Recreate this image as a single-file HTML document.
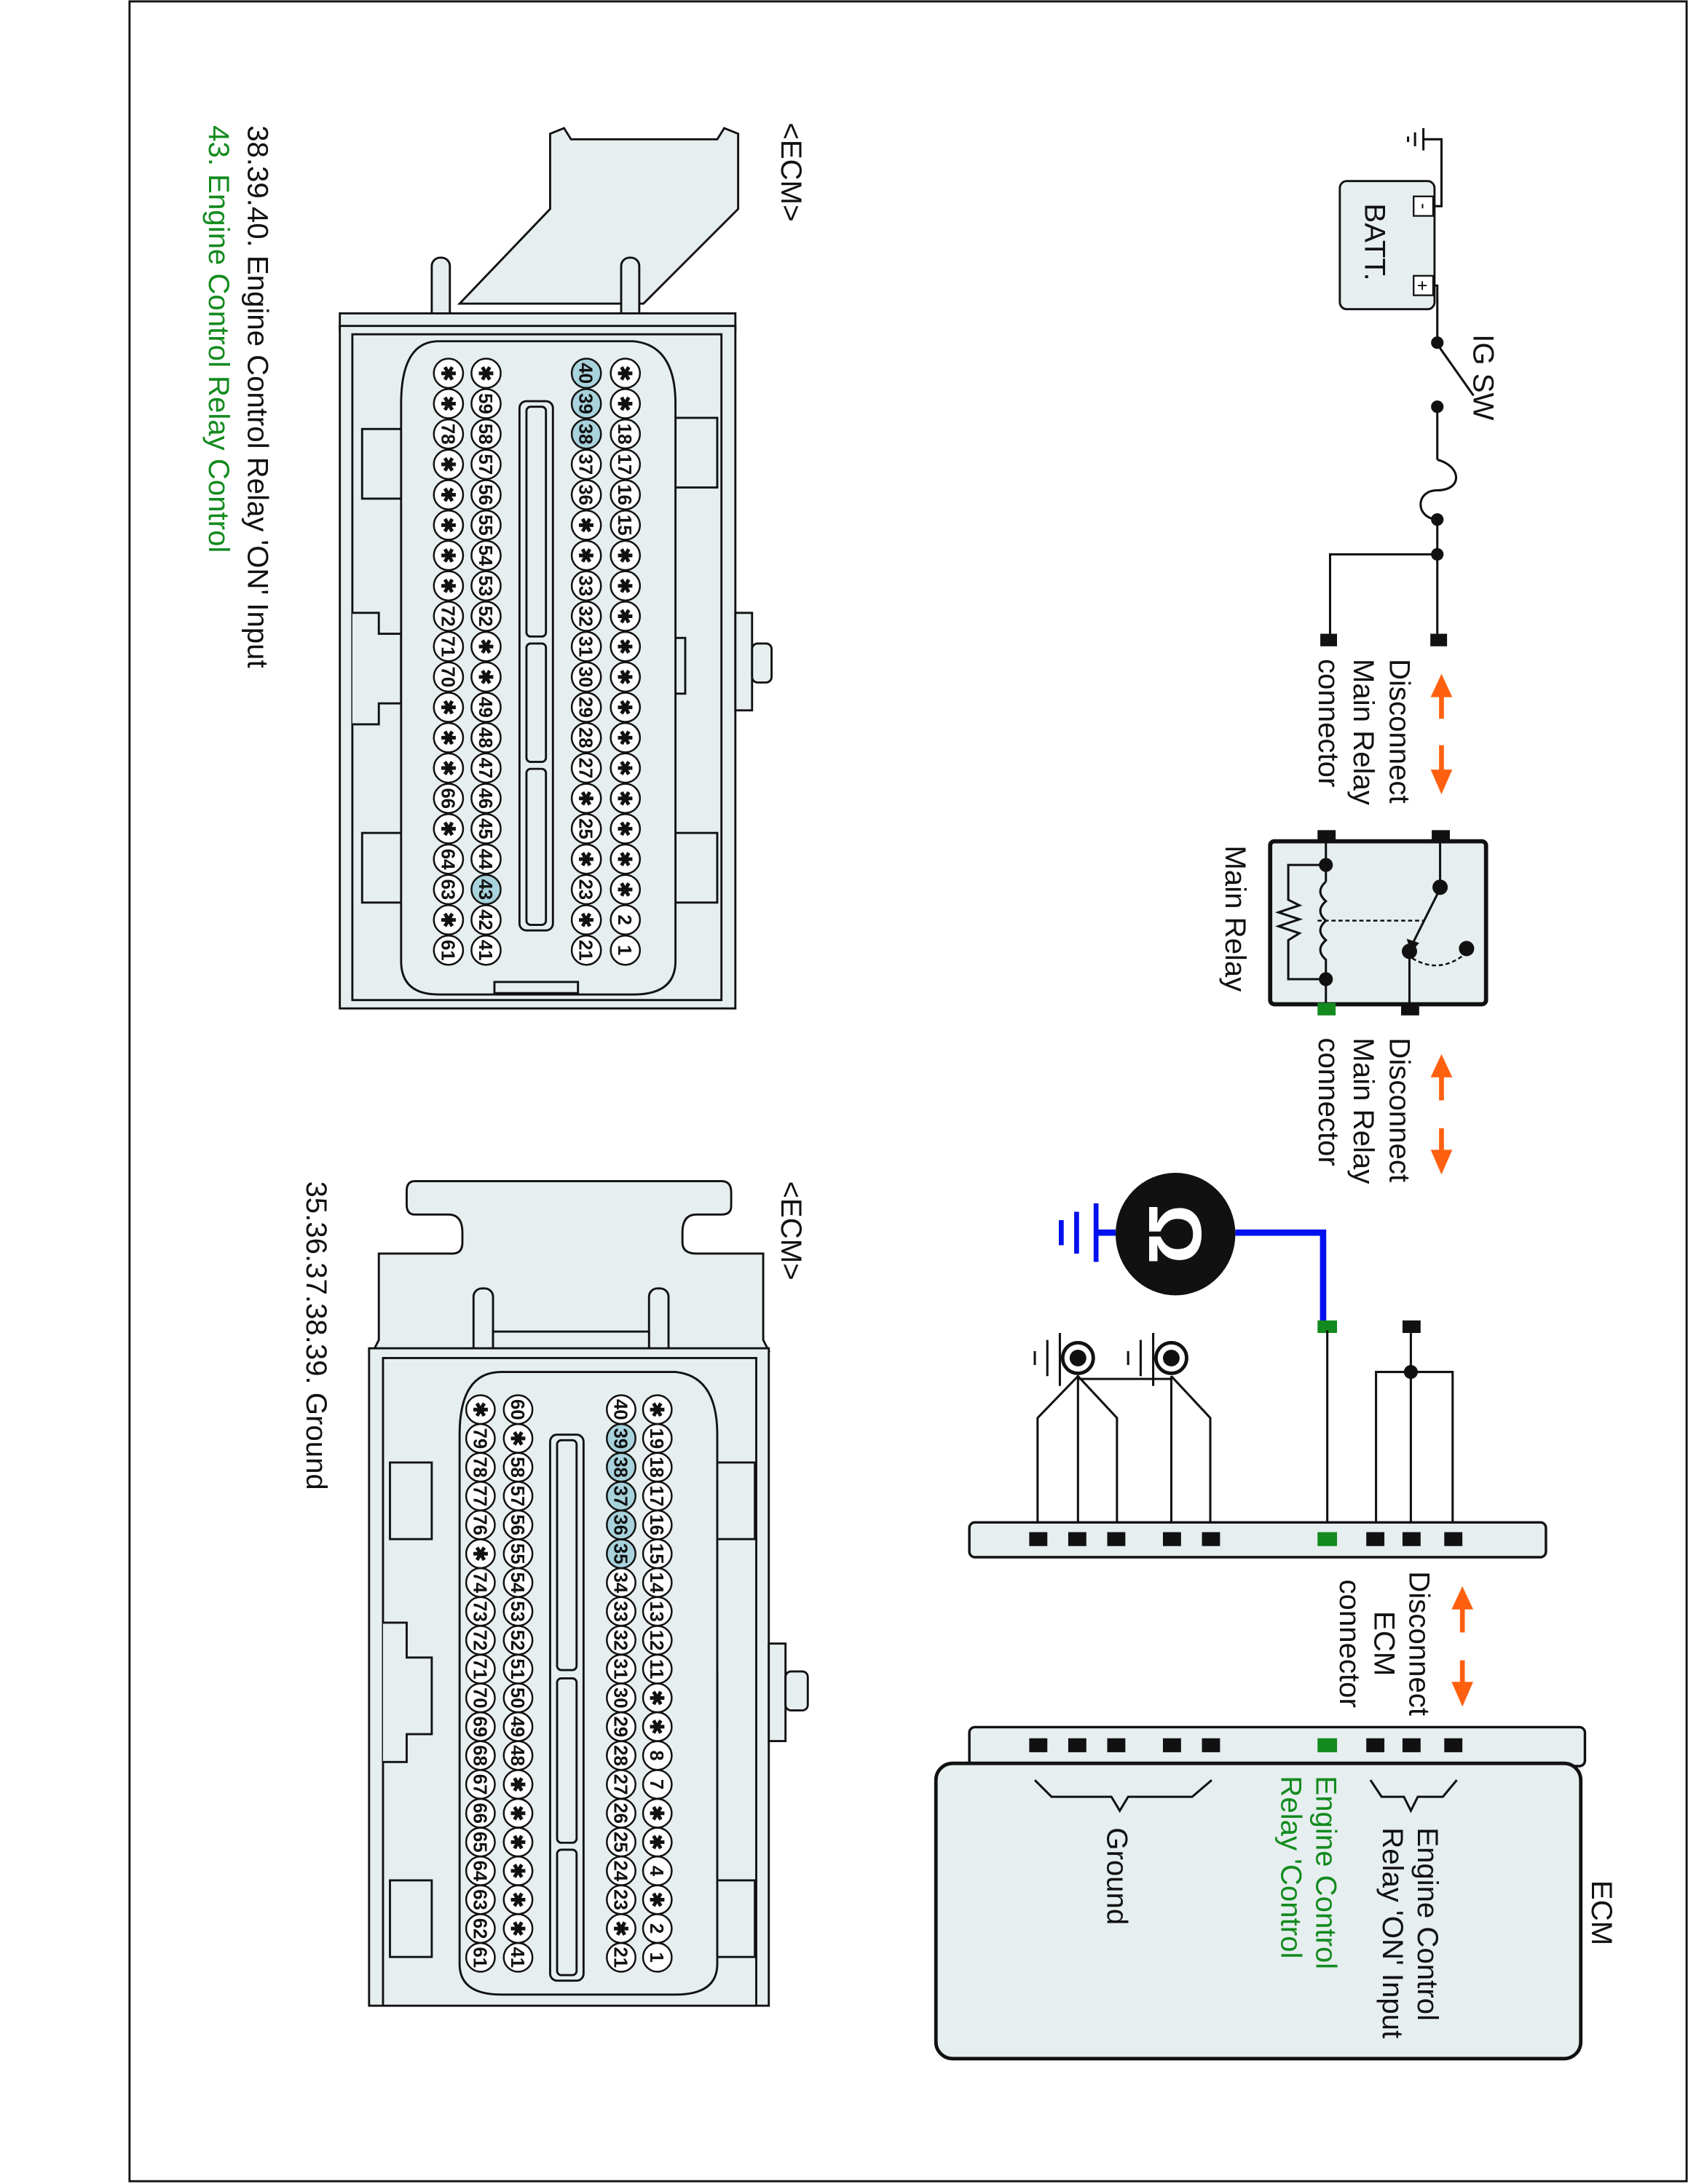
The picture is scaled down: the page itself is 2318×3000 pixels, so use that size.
<!DOCTYPE html>
<html><head><meta charset="utf-8"><style>
html,body{margin:0;padding:0;background:#fff}
svg{display:block}
text{font-family:"Liberation Sans",sans-serif}
.pin circle{fill:#fff;stroke:#111;stroke-width:1.3}
.pin circle.h{fill:#a8d2dc}
.pin text{font-size:13.5px;text-anchor:middle;fill:#111;font-weight:bold}
.lbl{font-size:21px;fill:#111}
.body{fill:#e6eeef;stroke:#111;stroke-width:1.5}
.w{stroke:#111;stroke-width:1.6;fill:none}
.sq{fill:#111}
.gs{fill:#138a1e}
</style></head><body>
<svg width="2318" height="3000" viewBox="0 0 1212 1568" preserveAspectRatio="none" xmlns="http://www.w3.org/2000/svg">
<rect x="93" y="1" width="1118" height="1565" fill="#fff" stroke="#111" stroke-width="1.5"/>

<!-- ===== TOP-LEFT CONNECTOR ===== -->
<polygon class="body" points="330,218 395,150 395,96 405,92 410,100 515,100 520,92 530,96 530,150 462,218"/>
<rect class="body" x="310" y="185" width="13" height="48" rx="6"/>
<rect class="body" x="446" y="185" width="13" height="48" rx="6"/>
<rect class="body" x="244" y="225" width="284" height="12"/>
<rect class="body" x="244" y="234" width="284" height="490"/>
<rect class="body" x="253" y="240" width="265" height="478"/>
<rect class="body" x="528" y="440" width="12" height="70"/>
<rect class="body" x="540" y="462" width="14" height="28" rx="4"/>
<rect class="body" x="482" y="458" width="10" height="40"/>
<rect class="body" x="260" y="308" width="30" height="50"/>
<rect class="body" x="485" y="300" width="30" height="50"/>
<rect class="body" x="260" y="598" width="30" height="50"/>
<rect class="body" x="485" y="598" width="30" height="50"/>
<path class="body" d="M253,440 L272,440 L272,455 L288,455 L288,505 L272,505 L272,520 L253,520"/>
<path class="body" d="M315,245 L455,245 Q485,248 485,290 L485,690 Q485,714 455,714 L315,714 Q288,714 288,690 L288,290 Q288,245 315,245 Z"/>
<rect class="body" x="355" y="705" width="60" height="8"/>
<rect class="body" x="373" y="288" width="24" height="380" rx="5"/>
<rect class="body" x="378" y="292" width="14" height="165" rx="3"/>
<rect class="body" x="378" y="462" width="14" height="85" rx="3"/>
<rect class="body" x="378" y="552" width="14" height="112" rx="3"/>

<g class="pin" transform="translate(449,268) rotate(90)">
<circle cx="0" r="10.5"/><text x="0" y="5">✱</text>
<circle cx="21.8" r="10.5"/><text x="21.8" y="5">✱</text>
<circle cx="43.6" r="10.5"/><text x="43.6" y="5">18</text>
<circle cx="65.4" r="10.5"/><text x="65.4" y="5">17</text>
<circle cx="87.2" r="10.5"/><text x="87.2" y="5">16</text>
<circle cx="109" r="10.5"/><text x="109" y="5">15</text>
<circle cx="130.8" r="10.5"/><text x="130.8" y="5">✱</text>
<circle cx="152.6" r="10.5"/><text x="152.6" y="5">✱</text>
<circle cx="174.4" r="10.5"/><text x="174.4" y="5">✱</text>
<circle cx="196.2" r="10.5"/><text x="196.2" y="5">✱</text>
<circle cx="218" r="10.5"/><text x="218" y="5">✱</text>
<circle cx="239.8" r="10.5"/><text x="239.8" y="5">✱</text>
<circle cx="261.6" r="10.5"/><text x="261.6" y="5">✱</text>
<circle cx="283.4" r="10.5"/><text x="283.4" y="5">✱</text>
<circle cx="305.2" r="10.5"/><text x="305.2" y="5">✱</text>
<circle cx="327" r="10.5"/><text x="327" y="5">✱</text>
<circle cx="348.8" r="10.5"/><text x="348.8" y="5">✱</text>
<circle cx="370.6" r="10.5"/><text x="370.6" y="5">✱</text>
<circle cx="392.4" r="10.5"/><text x="392.4" y="5">2</text>
<circle cx="414.2" r="10.5"/><text x="414.2" y="5">1</text>
</g>
<g class="pin" transform="translate(421,268) rotate(90)">
<circle class="h" cx="0" r="10.5"/><text x="0" y="5">40</text>
<circle class="h" cx="21.8" r="10.5"/><text x="21.8" y="5">39</text>
<circle class="h" cx="43.6" r="10.5"/><text x="43.6" y="5">38</text>
<circle cx="65.4" r="10.5"/><text x="65.4" y="5">37</text>
<circle cx="87.2" r="10.5"/><text x="87.2" y="5">36</text>
<circle cx="109" r="10.5"/><text x="109" y="5">✱</text>
<circle cx="130.8" r="10.5"/><text x="130.8" y="5">✱</text>
<circle cx="152.6" r="10.5"/><text x="152.6" y="5">33</text>
<circle cx="174.4" r="10.5"/><text x="174.4" y="5">32</text>
<circle cx="196.2" r="10.5"/><text x="196.2" y="5">31</text>
<circle cx="218" r="10.5"/><text x="218" y="5">30</text>
<circle cx="239.8" r="10.5"/><text x="239.8" y="5">29</text>
<circle cx="261.6" r="10.5"/><text x="261.6" y="5">28</text>
<circle cx="283.4" r="10.5"/><text x="283.4" y="5">27</text>
<circle cx="305.2" r="10.5"/><text x="305.2" y="5">✱</text>
<circle cx="327" r="10.5"/><text x="327" y="5">25</text>
<circle cx="348.8" r="10.5"/><text x="348.8" y="5">✱</text>
<circle cx="370.6" r="10.5"/><text x="370.6" y="5">23</text>
<circle cx="392.4" r="10.5"/><text x="392.4" y="5">✱</text>
<circle cx="414.2" r="10.5"/><text x="414.2" y="5">21</text>
</g>
<g class="pin" transform="translate(349,268) rotate(90)">
<circle cx="0" r="10.5"/><text x="0" y="5">✱</text>
<circle cx="21.8" r="10.5"/><text x="21.8" y="5">59</text>
<circle cx="43.6" r="10.5"/><text x="43.6" y="5">58</text>
<circle cx="65.4" r="10.5"/><text x="65.4" y="5">57</text>
<circle cx="87.2" r="10.5"/><text x="87.2" y="5">56</text>
<circle cx="109" r="10.5"/><text x="109" y="5">55</text>
<circle cx="130.8" r="10.5"/><text x="130.8" y="5">54</text>
<circle cx="152.6" r="10.5"/><text x="152.6" y="5">53</text>
<circle cx="174.4" r="10.5"/><text x="174.4" y="5">52</text>
<circle cx="196.2" r="10.5"/><text x="196.2" y="5">✱</text>
<circle cx="218" r="10.5"/><text x="218" y="5">✱</text>
<circle cx="239.8" r="10.5"/><text x="239.8" y="5">49</text>
<circle cx="261.6" r="10.5"/><text x="261.6" y="5">48</text>
<circle cx="283.4" r="10.5"/><text x="283.4" y="5">47</text>
<circle cx="305.2" r="10.5"/><text x="305.2" y="5">46</text>
<circle cx="327" r="10.5"/><text x="327" y="5">45</text>
<circle cx="348.8" r="10.5"/><text x="348.8" y="5">44</text>
<circle class="h" cx="370.6" r="10.5"/><text x="370.6" y="5">43</text>
<circle cx="392.4" r="10.5"/><text x="392.4" y="5">42</text>
<circle cx="414.2" r="10.5"/><text x="414.2" y="5">41</text>
</g>
<g class="pin" transform="translate(322,268) rotate(90)">
<circle cx="0" r="10.5"/><text x="0" y="5">✱</text>
<circle cx="21.8" r="10.5"/><text x="21.8" y="5">✱</text>
<circle cx="43.6" r="10.5"/><text x="43.6" y="5">78</text>
<circle cx="65.4" r="10.5"/><text x="65.4" y="5">✱</text>
<circle cx="87.2" r="10.5"/><text x="87.2" y="5">✱</text>
<circle cx="109" r="10.5"/><text x="109" y="5">✱</text>
<circle cx="130.8" r="10.5"/><text x="130.8" y="5">✱</text>
<circle cx="152.6" r="10.5"/><text x="152.6" y="5">✱</text>
<circle cx="174.4" r="10.5"/><text x="174.4" y="5">72</text>
<circle cx="196.2" r="10.5"/><text x="196.2" y="5">71</text>
<circle cx="218" r="10.5"/><text x="218" y="5">70</text>
<circle cx="239.8" r="10.5"/><text x="239.8" y="5">✱</text>
<circle cx="261.6" r="10.5"/><text x="261.6" y="5">✱</text>
<circle cx="283.4" r="10.5"/><text x="283.4" y="5">✱</text>
<circle cx="305.2" r="10.5"/><text x="305.2" y="5">66</text>
<circle cx="327" r="10.5"/><text x="327" y="5">✱</text>
<circle cx="348.8" r="10.5"/><text x="348.8" y="5">64</text>
<circle cx="370.6" r="10.5"/><text x="370.6" y="5">63</text>
<circle cx="392.4" r="10.5"/><text x="392.4" y="5">✱</text>
<circle cx="414.2" r="10.5"/><text x="414.2" y="5">61</text>
</g>

<!-- ===== BOTTOM-LEFT CONNECTOR ===== -->
<path class="body" d="M298,848 L518,848 Q525,848 525,856 L525,866 Q525,872 518,872 L500,872 Q490,872 490,885 L490,892 Q490,900 500,900 L548,900 L548,962 L552,970 L268,970 L272,962 L272,900 L325,900 Q332,900 332,892 L332,885 Q332,872 322,872 L298,872 Q292,872 292,865 L292,855 Q292,848 298,848 Z"/>
<rect class="body" x="340" y="925" width="14" height="50" rx="6"/>
<rect class="body" x="466" y="925" width="14" height="50" rx="6"/>
<rect class="body" x="354" y="956" width="112" height="14"/>
<rect class="body" x="265" y="968" width="287" height="472"/>
<rect class="body" x="275" y="975" width="268" height="465"/>
<rect class="body" x="552" y="1180" width="12" height="70"/>
<rect class="body" x="564" y="1200" width="16" height="28" rx="4"/>
<rect class="body" x="505" y="1200" width="10" height="40"/>
<rect class="body" x="280" y="1050" width="30" height="55"/>
<rect class="body" x="512" y="1050" width="30" height="55"/>
<rect class="body" x="280" y="1350" width="30" height="55"/>
<rect class="body" x="512" y="1350" width="30" height="55"/>
<path class="body" d="M275,1165 L292,1165 L292,1190 L310,1190 L310,1245 L292,1245 L292,1265 L275,1265"/>
<path class="body" d="M360,985 L485,985 Q515,988 515,1030 L515,1410 Q515,1432 485,1432 L360,1432 Q330,1432 330,1410 L330,1030 Q330,985 360,985 Z"/>
<rect class="body" x="395" y="1030" width="24" height="392" rx="5"/>
<rect class="body" x="400" y="1034" width="14" height="165" rx="3"/>
<rect class="body" x="400" y="1205" width="14" height="118" rx="3"/>
<rect class="body" x="400" y="1328" width="14" height="90" rx="3"/>

<g class="pin" transform="translate(472,1012) rotate(90)">
<circle cx="0" r="10.3"/><text x="0" y="5">✱</text>
<circle cx="20.7" r="10.3"/><text x="20.7" y="5">19</text>
<circle cx="41.4" r="10.3"/><text x="41.4" y="5">18</text>
<circle cx="62.1" r="10.3"/><text x="62.1" y="5">17</text>
<circle cx="82.8" r="10.3"/><text x="82.8" y="5">16</text>
<circle cx="103.5" r="10.3"/><text x="103.5" y="5">15</text>
<circle cx="124.2" r="10.3"/><text x="124.2" y="5">14</text>
<circle cx="144.9" r="10.3"/><text x="144.9" y="5">13</text>
<circle cx="165.6" r="10.3"/><text x="165.6" y="5">12</text>
<circle cx="186.3" r="10.3"/><text x="186.3" y="5">11</text>
<circle cx="207" r="10.3"/><text x="207" y="5">✱</text>
<circle cx="227.7" r="10.3"/><text x="227.7" y="5">✱</text>
<circle cx="248.4" r="10.3"/><text x="248.4" y="5">8</text>
<circle cx="269.1" r="10.3"/><text x="269.1" y="5">7</text>
<circle cx="289.8" r="10.3"/><text x="289.8" y="5">✱</text>
<circle cx="310.5" r="10.3"/><text x="310.5" y="5">✱</text>
<circle cx="331.2" r="10.3"/><text x="331.2" y="5">4</text>
<circle cx="351.9" r="10.3"/><text x="351.9" y="5">✱</text>
<circle cx="372.6" r="10.3"/><text x="372.6" y="5">2</text>
<circle cx="393.3" r="10.3"/><text x="393.3" y="5">1</text>
</g>
<g class="pin" transform="translate(446,1012) rotate(90)">
<circle cx="0" r="10.3"/><text x="0" y="5">40</text>
<circle class="h" cx="20.7" r="10.3"/><text x="20.7" y="5">39</text>
<circle class="h" cx="41.4" r="10.3"/><text x="41.4" y="5">38</text>
<circle class="h" cx="62.1" r="10.3"/><text x="62.1" y="5">37</text>
<circle class="h" cx="82.8" r="10.3"/><text x="82.8" y="5">36</text>
<circle class="h" cx="103.5" r="10.3"/><text x="103.5" y="5">35</text>
<circle cx="124.2" r="10.3"/><text x="124.2" y="5">34</text>
<circle cx="144.9" r="10.3"/><text x="144.9" y="5">33</text>
<circle cx="165.6" r="10.3"/><text x="165.6" y="5">32</text>
<circle cx="186.3" r="10.3"/><text x="186.3" y="5">31</text>
<circle cx="207" r="10.3"/><text x="207" y="5">30</text>
<circle cx="227.7" r="10.3"/><text x="227.7" y="5">29</text>
<circle cx="248.4" r="10.3"/><text x="248.4" y="5">28</text>
<circle cx="269.1" r="10.3"/><text x="269.1" y="5">27</text>
<circle cx="289.8" r="10.3"/><text x="289.8" y="5">26</text>
<circle cx="310.5" r="10.3"/><text x="310.5" y="5">25</text>
<circle cx="331.2" r="10.3"/><text x="331.2" y="5">24</text>
<circle cx="351.9" r="10.3"/><text x="351.9" y="5">23</text>
<circle cx="372.6" r="10.3"/><text x="372.6" y="5">✱</text>
<circle cx="393.3" r="10.3"/><text x="393.3" y="5">21</text>
</g>
<g class="pin" transform="translate(372,1012) rotate(90)">
<circle cx="0" r="10.3"/><text x="0" y="5">60</text>
<circle cx="20.7" r="10.3"/><text x="20.7" y="5">✱</text>
<circle cx="41.4" r="10.3"/><text x="41.4" y="5">58</text>
<circle cx="62.1" r="10.3"/><text x="62.1" y="5">57</text>
<circle cx="82.8" r="10.3"/><text x="82.8" y="5">56</text>
<circle cx="103.5" r="10.3"/><text x="103.5" y="5">55</text>
<circle cx="124.2" r="10.3"/><text x="124.2" y="5">54</text>
<circle cx="144.9" r="10.3"/><text x="144.9" y="5">53</text>
<circle cx="165.6" r="10.3"/><text x="165.6" y="5">52</text>
<circle cx="186.3" r="10.3"/><text x="186.3" y="5">51</text>
<circle cx="207" r="10.3"/><text x="207" y="5">50</text>
<circle cx="227.7" r="10.3"/><text x="227.7" y="5">49</text>
<circle cx="248.4" r="10.3"/><text x="248.4" y="5">48</text>
<circle cx="269.1" r="10.3"/><text x="269.1" y="5">✱</text>
<circle cx="289.8" r="10.3"/><text x="289.8" y="5">✱</text>
<circle cx="310.5" r="10.3"/><text x="310.5" y="5">✱</text>
<circle cx="331.2" r="10.3"/><text x="331.2" y="5">✱</text>
<circle cx="351.9" r="10.3"/><text x="351.9" y="5">✱</text>
<circle cx="372.6" r="10.3"/><text x="372.6" y="5">✱</text>
<circle cx="393.3" r="10.3"/><text x="393.3" y="5">41</text>
</g>
<g class="pin" transform="translate(345,1012) rotate(90)">
<circle cx="0" r="10.3"/><text x="0" y="5">✱</text>
<circle cx="20.7" r="10.3"/><text x="20.7" y="5">79</text>
<circle cx="41.4" r="10.3"/><text x="41.4" y="5">78</text>
<circle cx="62.1" r="10.3"/><text x="62.1" y="5">77</text>
<circle cx="82.8" r="10.3"/><text x="82.8" y="5">76</text>
<circle cx="103.5" r="10.3"/><text x="103.5" y="5">✱</text>
<circle cx="124.2" r="10.3"/><text x="124.2" y="5">74</text>
<circle cx="144.9" r="10.3"/><text x="144.9" y="5">73</text>
<circle cx="165.6" r="10.3"/><text x="165.6" y="5">72</text>
<circle cx="186.3" r="10.3"/><text x="186.3" y="5">71</text>
<circle cx="207" r="10.3"/><text x="207" y="5">70</text>
<circle cx="227.7" r="10.3"/><text x="227.7" y="5">69</text>
<circle cx="248.4" r="10.3"/><text x="248.4" y="5">68</text>
<circle cx="269.1" r="10.3"/><text x="269.1" y="5">67</text>
<circle cx="289.8" r="10.3"/><text x="289.8" y="5">66</text>
<circle cx="310.5" r="10.3"/><text x="310.5" y="5">65</text>
<circle cx="331.2" r="10.3"/><text x="331.2" y="5">64</text>
<circle cx="351.9" r="10.3"/><text x="351.9" y="5">63</text>
<circle cx="372.6" r="10.3"/><text x="372.6" y="5">62</text>
<circle cx="393.3" r="10.3"/><text x="393.3" y="5">61</text>
</g>

<!-- labels left -->
<text class="lbl" transform="translate(561,88) rotate(90)">&lt;ECM&gt;</text>
<text class="lbl" transform="translate(561,848) rotate(90)">&lt;ECM&gt;</text>
<text class="lbl" transform="translate(178,90) rotate(90)">38.39.40. Engine Control Relay 'ON' Input</text>
<text class="lbl" transform="translate(150,90) rotate(90)" style="fill:#138a1e">43. Engine Control Relay Control</text>
<text class="lbl" transform="translate(220,848) rotate(90)">35.36.37.38.39. Ground</text>

<!-- ===== RIGHT CIRCUIT ===== -->
<line class="w" x1="1022" y1="92" x2="1022" y2="108"/>
<line class="w" x1="1016" y1="95" x2="1016" y2="105"/>
<line class="w" x1="1011" y1="98" x2="1011" y2="102"/>
<polyline class="w" points="1022,100 1035,100 1035,148 1030,148"/>
<rect x="962" y="130" width="68" height="92" rx="5" fill="#e6eeef" stroke="#111" stroke-width="1.5"/>
<rect x="1015" y="141" width="14" height="14" fill="#fff" stroke="#111" stroke-width="1.2"/>
<text x="1022" y="152" font-size="13" text-anchor="middle" transform="rotate(90 1022 148)">-</text>
<rect x="1015" y="198" width="14" height="14" fill="#fff" stroke="#111" stroke-width="1.2"/>
<text x="1022" y="210" font-size="13" text-anchor="middle" transform="rotate(90 1022 205)">+</text>
<text class="lbl" transform="translate(980,146) rotate(90)">BATT.</text>
<polyline class="w" points="1029,205 1032,205 1032,245"/>
<circle cx="1032" cy="246" r="4.5" fill="#111"/>
<line class="w" x1="1034" y1="250" x2="1058" y2="284"/>
<circle cx="1032" cy="292" r="4.5" fill="#111"/>
<text class="lbl" transform="translate(1058,240) rotate(90)">IG SW</text>
<line class="w" x1="1032" y1="292" x2="1032" y2="330"/>
<path class="w" d="M1032,330 C1050,335 1050,352 1032,352 C1016,352 1016,372 1032,373"/>
<circle cx="1032" cy="373" r="4.5" fill="#111"/>
<circle cx="1032" cy="398" r="4.5" fill="#111"/>
<line class="w" x1="1032" y1="373" x2="1032" y2="455"/>
<polyline class="w" points="1032,398 955,398 955,455"/>
<rect class="sq" x="948" y="455" width="12" height="9"/>
<rect class="sq" x="1027" y="455" width="12" height="9"/>
<text class="lbl" transform="translate(998,473) rotate(90)">Disconnect</text>
<text class="lbl" transform="translate(972,473) rotate(90)">Main Relay</text>
<text class="lbl" transform="translate(947,473) rotate(90)">connector</text>
<g fill="#ff6010" stroke="#ff6010" stroke-width="3.5">
<line x1="1035" y1="495" x2="1035" y2="516"/><polygon points="1028,500 1042,500 1035,485" stroke-width="1"/>
<line x1="1035" y1="535" x2="1035" y2="557"/><polygon points="1028,553 1042,553 1035,569" stroke-width="1"/>
<line x1="1035" y1="768" x2="1035" y2="790"/><polygon points="1028,773 1042,773 1035,758" stroke-width="1"/>
<line x1="1035" y1="810" x2="1035" y2="830"/><polygon points="1028,826 1042,826 1035,842" stroke-width="1"/>
<line x1="1050" y1="1150" x2="1050" y2="1172"/><polygon points="1043,1155 1057,1155 1050,1140" stroke-width="1"/>
<line x1="1050" y1="1192" x2="1050" y2="1212"/><polygon points="1043,1208 1057,1208 1050,1224" stroke-width="1"/>
</g>
<rect x="912" y="604" width="155" height="117" rx="3" fill="#e6eeef" stroke="#111" stroke-width="3"/>
<rect class="sq" x="946" y="596" width="13" height="9"/>
<rect class="sq" x="1028" y="596" width="13" height="9"/>
<rect class="gs" x="946" y="720" width="13" height="9"/>
<rect class="sq" x="1006" y="720" width="13" height="9"/>
<line class="w" x1="952" y1="604" x2="952" y2="633"/>
<path class="w" d="M952,633 q-8,7 0,14 q-8,7 0,14 q-8,7 0,14 q-8,7 0,14 L952,720"/>
<circle cx="952" cy="621" r="5" fill="#111"/><circle cx="952" cy="703" r="5" fill="#111"/>
<polyline class="w" points="952,621 925,621 925,646 933,650 918,655 933,660 918,665 933,670 925,675 925,703 952,703"/>
<line x1="946" y1="661" x2="1022" y2="661" stroke="#111" stroke-width="1.3" stroke-dasharray="3,2"/>
<line class="w" x1="1034" y1="604" x2="1034" y2="637"/>
<circle cx="1034" cy="637" r="5.5" fill="#111"/>
<line class="w" x1="1032" y1="642" x2="1015" y2="676"/>
<polygon points="1010,674 1019,677 1013,684" fill="#111"/>
<circle cx="1012" cy="683" r="5.5" fill="#111"/>
<circle cx="1053" cy="681" r="5.5" fill="#111"/>
<path d="M1014,688 Q1034,700 1053,684" fill="none" stroke="#111" stroke-width="1.3" stroke-dasharray="3,2"/>
<line class="w" x1="1012" y1="683" x2="1012" y2="721"/>
<text class="lbl" transform="translate(880,607) rotate(90)">Main Relay</text>
<text class="lbl" transform="translate(998,745) rotate(90)">Disconnect</text>
<text class="lbl" transform="translate(972,745) rotate(90)">Main Relay</text>
<text class="lbl" transform="translate(947,745) rotate(90)">connector</text>

<ellipse cx="844" cy="886" rx="43" ry="44" fill="#111"/>
<text x="844" y="886" font-size="54" font-weight="bold" fill="#fff" text-anchor="middle" transform="rotate(90 844 886) translate(0,19)">Ω</text>
<polyline points="887,885 950,885 950,950" fill="none" stroke="#0010ee" stroke-width="4.5"/>
<line x1="787" y1="885" x2="801" y2="885" stroke="#0010ee" stroke-width="4.5"/>
<line x1="787" y1="864" x2="787" y2="906" stroke="#0010ee" stroke-width="3.5"/>
<line x1="773" y1="870" x2="773" y2="900" stroke="#0010ee" stroke-width="3.5"/>
<line x1="762" y1="876" x2="762" y2="894" stroke="#0010ee" stroke-width="3.5"/>
<rect class="gs" x="946" y="948" width="14" height="9"/>
<line class="w" x1="953" y1="955" x2="953" y2="1105"/>
<rect class="sq" x="1007" y="948" width="13" height="9"/>
<line class="w" x1="1013" y1="955" x2="1013" y2="1105"/>
<circle cx="1013" cy="985" r="5" fill="#111"/>
<polyline class="w" points="988,1105 988,985 1043,985 1043,1105"/>
<g>
<circle cx="774" cy="975" r="11" fill="#fff" stroke="#111" stroke-width="2.5"/><circle cx="774" cy="975" r="6" fill="#111"/>
<line class="w" x1="761" y1="957" x2="761" y2="995" stroke-width="2.5"/><line class="w" x1="752" y1="962" x2="752" y2="988" stroke-width="2.5"/><line class="w" x1="743" y1="970" x2="743" y2="980" stroke-width="2.5"/>
<circle cx="841" cy="975" r="11" fill="#fff" stroke="#111" stroke-width="2.5"/><circle cx="841" cy="975" r="6" fill="#111"/>
<line class="w" x1="828" y1="957" x2="828" y2="995" stroke-width="2.5"/><line class="w" x1="819" y1="962" x2="819" y2="988" stroke-width="2.5"/><line class="w" x1="810" y1="970" x2="810" y2="980" stroke-width="2.5"/>
</g>
<line class="w" x1="774" y1="990" x2="841" y2="990"/>
<polyline class="w" points="745,1105 745,1018 774,988 802,1018 802,1105"/>
<line class="w" x1="774" y1="988" x2="774" y2="1105"/>
<polyline class="w" points="841,988 841,1105"/>
<polyline class="w" points="841,988 869,1018 869,1105"/>
<rect x="696" y="1093" width="414" height="25" rx="4" fill="#e6eeef" stroke="#111" stroke-width="1.8"/>
<g class="sq">
<rect x="739" y="1100" width="13" height="10"/><rect x="767" y="1100" width="13" height="10"/><rect x="795" y="1100" width="13" height="10"/>
<rect x="835" y="1100" width="13" height="10"/><rect x="863" y="1100" width="13" height="10"/>
<rect x="981" y="1100" width="13" height="10"/><rect x="1007" y="1100" width="13" height="10"/><rect x="1037" y="1100" width="13" height="10"/>
</g>
<rect class="gs" x="946" y="1100" width="14" height="10"/>
<text class="lbl" text-anchor="middle" transform="translate(1012,1180) rotate(90)">Disconnect</text>
<text class="lbl" text-anchor="middle" transform="translate(987,1180) rotate(90)">ECM</text>
<text class="lbl" text-anchor="middle" transform="translate(962,1180) rotate(90)">connector</text>

<rect x="696" y="1240" width="442" height="28" rx="4" fill="#e6eeef" stroke="#111" stroke-width="1.8"/>
<rect x="672" y="1266" width="463" height="212" rx="12" fill="#e6eeef" stroke="#111" stroke-width="2.5"/>
<g class="sq">
<rect x="739" y="1248" width="13" height="10"/><rect x="767" y="1248" width="13" height="10"/><rect x="795" y="1248" width="13" height="10"/>
<rect x="835" y="1248" width="13" height="10"/><rect x="863" y="1248" width="13" height="10"/>
<rect x="981" y="1248" width="13" height="10"/><rect x="1007" y="1248" width="13" height="10"/><rect x="1037" y="1248" width="13" height="10"/>
</g>
<rect class="gs" x="946" y="1248" width="14" height="10"/>
<polyline class="w" points="1046,1278 1036,1290 1018,1290 1013,1300 1008,1290 992,1290 984,1278"/>
<polyline class="w" points="870,1278 856,1290 810,1290 804,1300 798,1290 755,1290 743,1278"/>
<text class="lbl" transform="translate(1143,1350) rotate(90)">ECM</text>
<text class="lbl" transform="translate(1018,1312) rotate(90)">Engine Control</text>
<text class="lbl" transform="translate(993,1312) rotate(90)">Relay 'ON' Input</text>
<text class="lbl" style="fill:#138a1e" transform="translate(945,1275) rotate(90)">Engine Control</text>
<text class="lbl" style="fill:#138a1e" transform="translate(920,1275) rotate(90)">Relay 'Control</text>
<text class="lbl" transform="translate(795,1312) rotate(90)">Ground</text>
</svg>
</body></html>
